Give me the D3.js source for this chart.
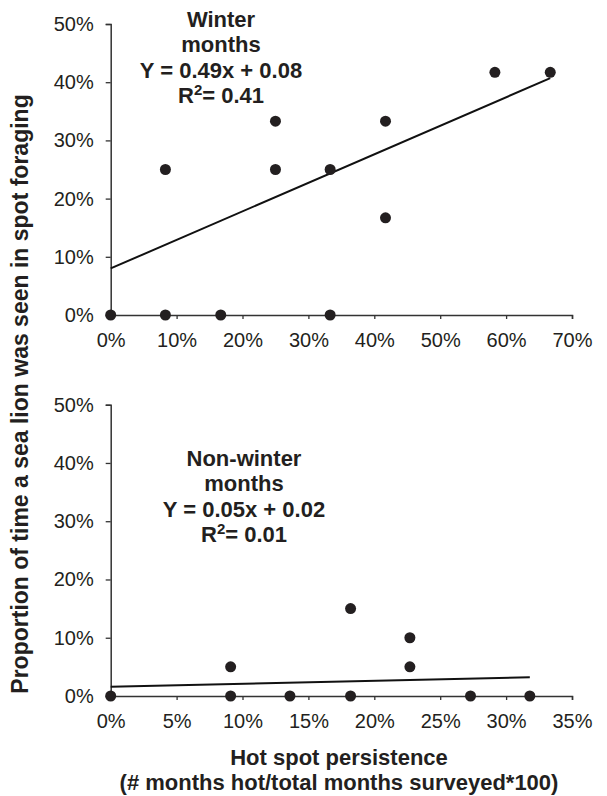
<!DOCTYPE html>
<html>
<head>
<meta charset="utf-8">
<script src="https://cdn.jsdelivr.net/npm/d3@7"></script>
<style>
  html, body { margin: 0; padding: 0; background: #fff; }
  svg { display: block; font-family: "Liberation Sans", Arial, Helvetica, sans-serif; }
</style>
</head>
<body>
<svg id="chart" width="607" height="796"></svg>
<script>
// ---------- data ----------
const yTicks = [0, 0.1, 0.2, 0.3, 0.4, 0.5];

// Winter months panel
const winterXTicks = [0, 0.1, 0.2, 0.3, 0.4, 0.5, 0.6, 0.7];
const winterX = [0, 0.083, 0.167, 0.333, 0.083, 0.25, 0.25, 0.333, 0.417, 0.417, 0.583, 0.667];
const winterY = [0, 0, 0, 0, 0.25, 0.25, 0.333, 0.25, 0.333, 0.167, 0.417, 0.417];
const winterFitX = [0, 0.667];
const winterFitY = [0.08, 0.407];
const winterLabel = ["Winter", "months", "Y = 0.49x + 0.08", "R2= 0.41"];

// Non-winter months panel
const nonWinterXTicks = [0, 0.05, 0.10, 0.15, 0.20, 0.25, 0.30, 0.35];
const nonWinterX = [0, 0.091, 0.091, 0.136, 0.182, 0.182, 0.227, 0.227, 0.273, 0.318];
const nonWinterY = [0, 0, 0.05, 0, 0, 0.15, 0.10, 0.05, 0, 0];
const nonWinterFitX = [0, 0.318];
const nonWinterFitY = [0.016, 0.032];
const nonWinterLabel = ["Non-winter", "months", "Y = 0.05x + 0.02", "R2= 0.01"];

const yTitle = "Proportion of time a sea lion was seen in spot foraging";
const xTitle = ["Hot spot persistence", "(# months hot/total months surveyed*100)"];

// ---------- drawing ----------
const svg = d3.select("#chart");
const ink = "#231f20";
const fmt = d3.format(".0%");
const left = 110.7, right = 572;

function panel(cfg) {
  const x = d3.scaleLinear().domain([0, cfg.xMax]).range([left, right]);
  const y = d3.scaleLinear().domain([0, 0.5]).range([cfg.bottom, cfg.top]);
  const g = svg.append("g");

  const xa = g.append("g")
    .attr("transform", `translate(0,${cfg.bottom})`)
    .call(d3.axisBottom(x).tickValues(cfg.xTicks).tickFormat(fmt).tickSize(4).tickSizeOuter(4).tickPadding(14));
  const ya = g.append("g")
    .attr("transform", `translate(${left},0)`)
    .call(d3.axisLeft(y).tickValues(yTicks).tickFormat(fmt).tickSize(5).tickSizeOuter(5).tickPadding(12));

  [xa, ya].forEach(a => {
    a.select(".domain").attr("stroke", "#333").attr("stroke-width", 1.5);
    a.selectAll(".tick line").attr("stroke", "#333").attr("stroke-width", 1.3);
    a.selectAll(".tick text").attr("fill", ink).style("font-size", "20px")
      .style("font-family", "'Liberation Sans', Arial, Helvetica, sans-serif");
  });

  // trend line
  const line = d3.line().x(d => x(d[0])).y(d => y(d[1]));
  g.append("path")
    .datum(cfg.fitX.map((v, i) => [v, cfg.fitY[i]]))
    .attr("d", line)
    .attr("fill", "none")
    .attr("stroke", "#111")
    .attr("stroke-width", 2);

  // points
  g.selectAll("circle.pt")
    .data(cfg.xs.map((v, i) => [v, cfg.ys[i]]))
    .join("circle")
    .attr("class", "pt")
    .attr("cx", d => x(d[0]))
    .attr("cy", d => y(d[1]))
    .attr("r", 5.5)
    .attr("fill", ink);

  // annotation
  const t = g.append("text")
    .attr("text-anchor", "middle")
    .attr("fill", ink)
    .style("font-weight", "bold")
    .style("font-size", "22px");
  cfg.label.forEach((s, i) => {
    const ts = t.append("tspan").attr("x", cfg.labelX).attr("y", cfg.labelY + i * 25.4);
    if (s.startsWith("R2")) {
      ts.append("tspan").text("R");
      ts.append("tspan").text("2").attr("dy", -8).style("font-size", "15px");
      ts.append("tspan").text(s.slice(2)).attr("dy", 8);
    } else {
      ts.text(s);
    }
  });
}

panel({
  xMax: 0.7, xTicks: winterXTicks, top: 24, bottom: 315,
  xs: winterX, ys: winterY, fitX: winterFitX, fitY: winterFitY,
  label: winterLabel, labelX: 221, labelY: 27
});

panel({
  xMax: 0.35, xTicks: nonWinterXTicks, top: 404.7, bottom: 696,
  xs: nonWinterX, ys: nonWinterY, fitX: nonWinterFitX, fitY: nonWinterFitY,
  label: nonWinterLabel, labelX: 244, labelY: 466
});

// axis titles
svg.append("text")
  .attr("transform", "translate(28,394) rotate(-90)")
  .attr("text-anchor", "middle")
  .attr("fill", ink)
  .style("font-weight", "bold")
  .style("font-size", "23px")
  .text(yTitle);

svg.append("text")
  .attr("text-anchor", "middle")
  .attr("fill", ink)
  .style("font-weight", "bold")
  .style("font-size", "22px")
  .selectAll("tspan")
  .data(xTitle)
  .join("tspan")
  .attr("x", 339)
  .attr("y", (d, i) => 765 + i * 25)
  .text(d => d);
</script>
</body>
</html>
